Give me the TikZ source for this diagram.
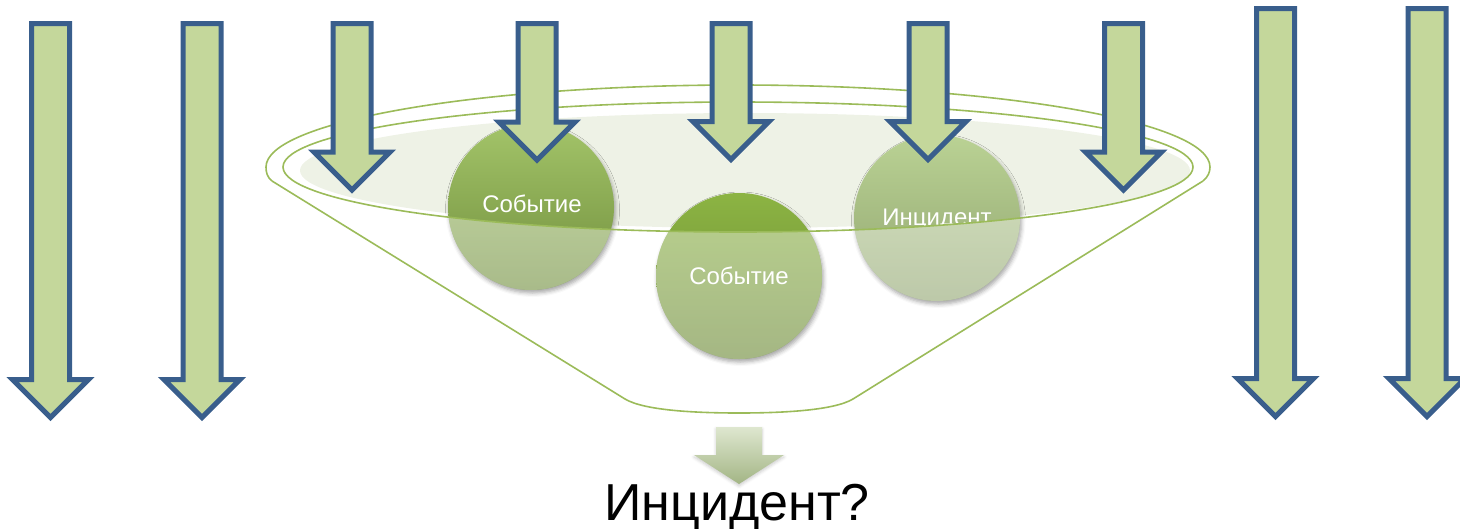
\documentclass[tikz,border=0pt]{standalone}
\usepackage{fontspec}
\setmainfont{Liberation Sans}
\usetikzlibrary{shadows.blur}
\definecolor{arrowfill}{HTML}{C4D79B}
\definecolor{arrowline}{HTML}{395E8C}
\definecolor{rim}{HTML}{9BBB59}
\definecolor{mouth}{HTML}{EEF2E6}
\definecolor{bOneT}{RGB}{163,196,105}
\definecolor{bOneB}{RGB}{112,142,60}
\definecolor{bTwoT}{RGB}{140,180,67}
\definecolor{bTwoB}{RGB}{105,135,50}
\definecolor{bThrT}{RGB}{186,210,148}
\definecolor{bThrB}{RGB}{145,165,112}
\definecolor{fadeT}{HTML}{DEE7CF}
\definecolor{fadeB}{HTML}{A3B585}
\tikzset{
  arrowbox/.style={draw=arrowline, fill=arrowfill, line width=5pt, line join=miter},
  rimline/.style={draw=rim, line width=1.6pt},
  ballbase/.style={circle, minimum size=166pt, inner sep=0pt,
    blur shadow={shadow xshift=1.5pt, shadow yshift=-3pt, shadow blur radius=4pt, shadow opacity=35}},
  balltext/.style={text=white, font=\fontsize{24}{28}\selectfont, anchor=base},
  wallveil/.style={fill=white, opacity=0.4, even odd rule}
}
\newcommand\dnarrow[3]{%
  \draw[arrowbox] ({#1-19},#2) -- ({#1+19},#2) -- ({#1+19},#3) -- ({#1+38},#3)
    -- (#1,{#3+38}) -- ({#1-38},#3) -- ({#1-19},#3) -- cycle;}
\begin{document}
\begin{tikzpicture}[x=1pt,y=-1pt]
\useasboundingbox (0,0) rectangle (1460,528);
% mouth of the funnel
\fill[mouth] (745,170.5) ellipse[x radius=445pt, y radius=57.5pt];
% outer rim and funnel walls
\coordinate (lk) at (272,181);
\coordinate (rk) at (1203,181);
\coordinate (lb) at (625,399);
\coordinate (rb) at (853,399);
\draw[rimline, line join=round] (lk) .. controls (267,177) and (266,172) .. (266,167)
  .. controls (266,121.7) and (477.3,85) .. (738,85)
  .. controls (998.7,85) and (1210,121.7) .. (1210,167)
  .. controls (1210,172) and (1208,177) .. (rk);
\draw[rimline, line join=round] (lk) -- (lb)
  .. controls (645,411) and (700,413) .. (739,413)
  .. controls (778,413) and (833,411) .. (rb) -- (rk);
% balls
\node[ballbase, top color=bOneT, bottom color=bOneB] (c1) at (531,207) {};
\node[ballbase, top color=bTwoT, bottom color=bTwoB] (c2) at (739,276) {};
\node[ballbase, top color=bThrT, bottom color=bThrB] (c3) at (937,218) {};
\foreach \c in {c1,c2,c3}{
  \begin{scope}
    \clip (\c) circle[radius=83pt];
    \fill[wallveil] (-10,-10) rectangle (1470,540) (738,167) ellipse[x radius=455pt, y radius=65pt];
  \end{scope}
}
\node[balltext] (t1) at (532,212) {Событие};
\node[balltext] (t2) at (739,284) {Событие};
\begin{scope}
  \clip (738,167) ellipse[x radius=455pt, y radius=65pt];
  \node[balltext] (t3) at (937,225) {Инцидент};
\end{scope}
% inner rim
\draw[rimline] (738,167) ellipse[x radius=455pt, y radius=65pt];
% arrows
\dnarrow{50.5}{23.5}{379.5}
\dnarrow{202}{23.5}{379.5}
\dnarrow{352}{23.5}{152}
\dnarrow{537}{23.5}{122}
\dnarrow{731}{23.5}{121.5}
\dnarrow{928}{23.5}{121.5}
\dnarrow{1123.5}{23.5}{152}
\dnarrow{1275.5}{8.5}{378.5}
\dnarrow{1427}{8.5}{378.5}
% result arrow and label
\shade[top color=fadeT, bottom color=fadeB,
  blur shadow={shadow xshift=0pt, shadow yshift=-2pt, shadow blur radius=3pt, shadow opacity=20}]
  (716,427) -- (762,427) -- (762,455) -- (784,455) -- (739,484) -- (694,455) -- (716,455) -- cycle;
\node[font=\fontsize{52}{60}\selectfont, anchor=base, text=black] (q) at (737,520) {Инцидент?};
\end{tikzpicture}
\end{document}
